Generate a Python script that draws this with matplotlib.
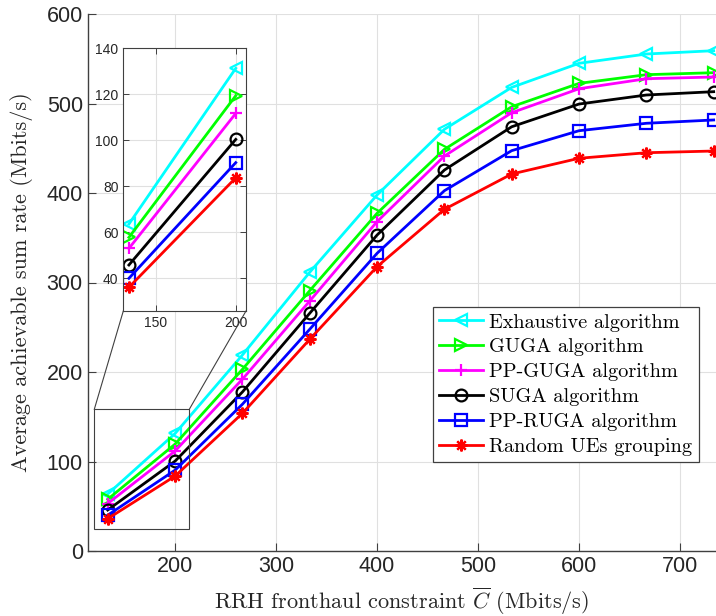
import matplotlib
matplotlib.use("Agg")
import matplotlib.pyplot as plt
from matplotlib.lines import Line2D
from matplotlib.patches import Rectangle

plt.rcParams['mathtext.fontset'] = 'cm'
plt.rcParams['axes.unicode_minus'] = False

# ---- data ----
x_vals = [133.3, 200.0, 266.7, 333.3, 400.0, 466.7, 533.3, 600.0, 666.7, 733.3]
exhaustive = [63.6, 131.3, 219.0, 311.4, 397.8, 471.2, 518.0, 544.9, 555.3, 559.0]
guga       = [57.8, 119.4, 203.0, 290.8, 377.3, 448.8, 496.4, 522.5, 532.2, 534.4]
pp_guga    = [53.0, 111.7, 192.0, 279.3, 368.0, 441.3, 489.7, 516.5, 527.7, 529.6]
suga       = [45.8, 100.4, 177.7, 265.6, 353.0, 425.7, 474.0, 499.4, 509.5, 513.2]
pp_ruga    = [40.0, 90.3, 164.0, 247.7, 332.6, 402.6, 447.3, 469.6, 477.9, 481.6]
random_grp = [36.1, 83.7, 153.8, 236.5, 317.7, 381.8, 421.2, 438.8, 445.0, 446.9]

labels = ["Exhaustive algorithm", "GUGA algorithm", "PP-GUGA algorithm",
          "SUGA algorithm", "PP-RUGA algorithm", "Random UEs grouping"]
series = [exhaustive, guga, pp_guga, suga, pp_ruga, random_grp]
colors = ["#00ffff", "#00ff00", "#ff00ff", "#000000", "#0000ff", "#ff0000"]
markers = ["<", ">", "+", "o", "s", (8, 2, 0)]

xticks = [200, 300, 400, 500, 600, 700]
yticks = [0, 100, 200, 300, 400, 500, 600]
inset_xticks = [150, 200]
inset_yticks = [40, 60, 80, 100, 120, 140]
n_inset = 2  # number of points shown in the zoomed inset

W, H = 716, 616
fig = plt.figure(figsize=(W / 100, H / 100), dpi=100)

def fx(px):
    return px / W

def fy(py):
    return 1 - py / H

# main axes
ax = fig.add_axes([fx(87.7), fy(551), fx(716) - fx(87.7), fy(14) - fy(551)])
serif = 'cmr10'
tick_font = 'Liberation Sans'
spine_c = '#404040'

def draw_series(ax_, n, lw, ms, clip):
    for s, lab, c, m in zip(series, labels, colors, markers):
        ax_.plot(x_vals[:n], s[:n], color=c, lw=lw, marker=m, ms=ms,
                 mfc='none', mec=c, mew=1.6, label=lab, clip_on=clip)

draw_series(ax, len(x_vals), 2.0, 8.5, False)
ax.set_xlim(113.5, 735.6)
ax.set_ylim(0, 600)
ax.set_xticks(xticks)
ax.set_yticks(yticks)
ax.grid(True, color='#e0e0e0', lw=0.8)
ax.set_axisbelow(True)
for sp in ['top', 'right']:
    ax.spines[sp].set_visible(False)
for sp in ['left', 'bottom']:
    ax.spines[sp].set_color(spine_c)
    ax.spines[sp].set_linewidth(1.0)
ax.tick_params(direction='in', length=6, width=0.8, colors=spine_c,
               labelcolor='#262626', labelsize=15.5)
for t in ax.get_xticklabels() + ax.get_yticklabels():
    t.set_fontfamily(tick_font)
ax.set_xlabel(r"RRH fronthaul constraint $\overline{C}$ (Mbits/s)",
              fontfamily=serif, fontsize=16, color='#262626', labelpad=6)
ax.set_ylabel("Average achievable sum rate (Mbits/s)",
              fontfamily=serif, fontsize=16, color='#262626', labelpad=10)

leg = ax.legend(loc='upper left', bbox_to_anchor=((432.7 - 87.7) / (716 - 87.7), (551 - 307.3) / (551 - 14)),
                prop={'family': serif, 'size': 14.6}, frameon=True, fancybox=False,
                edgecolor='#404040', framealpha=1, handlelength=2.2, handletextpad=0.3,
                labelspacing=0.33, borderpad=0.3, borderaxespad=0)
leg.get_frame().set_linewidth(0.9)

# zoom rectangle in main axes (data coordinates)
rx0, rx1, ry0, ry1 = 120.1, 214.2, 24.2, 158.3
ax.add_patch(Rectangle((rx0, ry0), rx1 - rx0, ry1 - ry0, fill=False,
                       ec='#404040', lw=0.8, zorder=5))

# inset axes
ix0, ix1, iy0, iy1 = 123.3, 246, 48.3, 311
axi = fig.add_axes([fx(ix0), fy(iy1), fx(ix1) - fx(ix0), fy(iy0) - fy(iy1)])
draw_series(axi, n_inset, 2.0, 8.5, True)
axi.set_xlim(129.8, 206.4)
axi.set_ylim(25.8, 140)
axi.set_xticks(inset_xticks)
axi.set_yticks(inset_yticks)
axi.grid(True, color='#e0e0e0', lw=0.8)
axi.set_axisbelow(True)
for sp in axi.spines.values():
    sp.set_color(spine_c)
    sp.set_linewidth(0.8)
axi.tick_params(direction='in', length=4, width=0.7, colors=spine_c,
                labelcolor='#262626', labelsize=10, top=True, right=True)
for t in axi.get_xticklabels() + axi.get_yticklabels():
    t.set_fontfamily(tick_font)

# connector lines (figure pixels)
for (xa, ya, xb, yb) in [(94.3, 409.3, ix0, iy1), (189.3, 409.3, ix1, iy1)]:
    fig.add_artist(Line2D([fx(xa), fx(xb)], [fy(ya), fy(yb)],
                          color='#404040', lw=0.8, transform=fig.transFigure))

fig.savefig("out.png", dpi=100)
